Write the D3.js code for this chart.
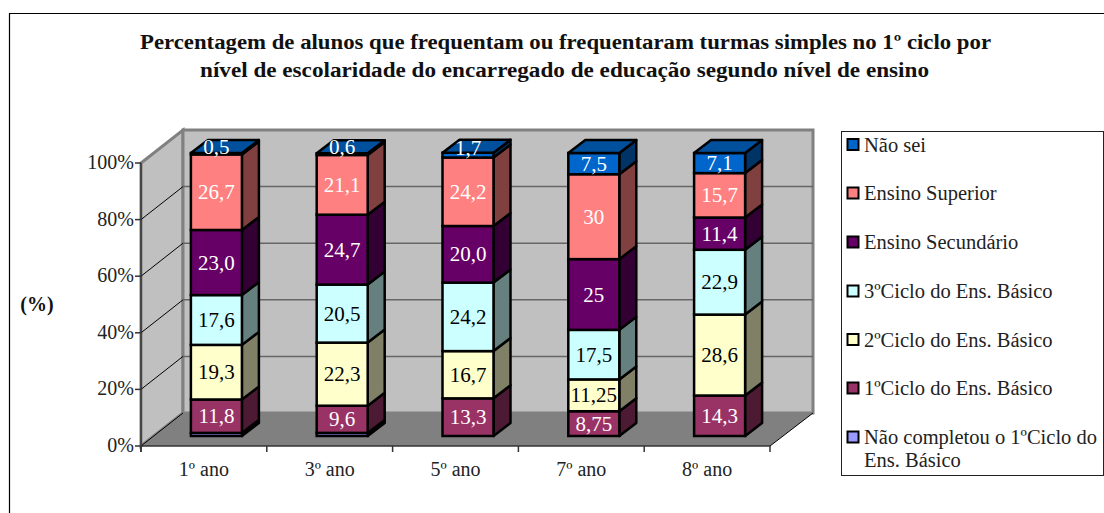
<!DOCTYPE html>
<html><head><meta charset="utf-8">
<script src="https://cdn.jsdelivr.net/npm/d3@7/dist/d3.min.js"></script>
<style>html,body{margin:0;padding:0;background:#fff}svg{display:block}text{font-family:"Liberation Serif",serif}</style>
</head><body><svg id="c" width="1104" height="513"></svg>
<script>
const categories=["1º ano","3º ano","5º ano","7º ano","8º ano"];
const seriesNames=["Não completou o 1ºCiclo do Ens. Básico","1ºCiclo do Ens. Básico","2ºCiclo do Ens. Básico","3ºCiclo do Ens. Básico","Ensino Secundário","Ensino Superior","Não sei"];
const naoCompletou=[1.1,1.1,0,0,0];
const ciclo1=[11.8,9.6,13.3,8.75,14.3];
const ciclo2=[19.3,22.3,16.7,11.25,28.6];
const ciclo3=[17.6,20.5,24.2,17.5,22.9];
const secundario=[23.0,24.7,20.0,25,11.4];
const superior=[26.7,21.1,24.2,30,15.7];
const naoSei=[0.5,0.6,1.7,7.5,7.1];
const labels=[
 [null,null,null,null,null],
 ["11,8","9,6","13,3","8,75","14,3"],
 ["19,3","22,3","16,7","11,25","28,6"],
 ["17,6","20,5","24,2","17,5","22,9"],
 ["23,0","24,7","20,0","25","11,4"],
 ["26,7","21,1","24,2","30","15,7"],
 ["0,5","0,6","1,7","7,5","7,1"]];
const colors=["#9999ff","#993366","#ffffcc","#ccffff","#660066","#ff8080","#0066cc"];
const sideColors=["#4c4c80","#4d1a33","#808066","#668080","#330033","#804040","#003366"];
const topBlue="#00509e";
const labelColors=["#000","#fff","#000","#000","#fff","#fff","#fff"];
const values=[naoCompletou,ciclo1,ciclo2,ciclo3,secundario,superior,naoSei];
const ticks=[0,20,40,60,80,100];
const svg=d3.select("#c");
svg.append("path").attr("d","M9.5,513V13.5H1104").attr("fill","none").attr("stroke","#000").attr("stroke-width",1.2);
const title=["Percentagem de alunos que frequentam ou frequentaram turmas simples no 1º ciclo por","nível de escolaridade do encarregado de educação segundo nível de ensino"];
const titleX=[140,200],titleW=[851,729];
title.forEach((t,i)=>svg.append("text").attr("x",titleX[i]).attr("y",48.5+i*28.5).attr("font-size",20.5).attr("font-weight","bold").attr("fill","#111").attr("textLength",titleW[i]).attr("lengthAdjust","spacingAndGlyphs").text(t));
const x=d3.scaleBand().domain(categories).range([141,770]);
const y=d3.scaleLinear().domain([0,100]).range([446,163]);
const D={x:42,y:-33};
const g=svg.append("g");
g.append("polygon").attr("points",[[141,y(0)],[141,y(100)],[141+D.x,y(100)+D.y],[141+D.x,y(0)+D.y]].join(" ")).attr("fill","#c0c0c0").attr("stroke","#808080").attr("stroke-width",3);
g.append("polygon").attr("points",[[141+D.x,y(100)+D.y],[770+D.x+1,y(100)+D.y],[770+D.x+1,y(0)+D.y],[141+D.x,y(0)+D.y]].join(" ")).attr("fill","#c0c0c0").attr("stroke","#808080").attr("stroke-width",3);
g.append("polygon").attr("points",[[141,y(0)],[770,y(0)],[770+D.x+1,y(0)+D.y],[141+D.x,y(0)+D.y]].join(" ")).attr("fill","#808080");
g.append("line").attr("x1",770).attr("y1",y(0)).attr("x2",770+D.x+1).attr("y2",y(0)+D.y).attr("stroke","#000");
ticks.forEach(t=>{
  if(t>0&&t<100) g.append("line").attr("x1",141+D.x).attr("x2",770+D.x+1).attr("y1",y(t)+D.y).attr("y2",y(t)+D.y).attr("stroke","#666").attr("stroke-width",1.5);
  if(t<100) g.append("line").attr("x1",141).attr("x2",141+D.x).attr("y1",y(t)).attr("y2",y(t)+D.y).attr("stroke","#000");
  g.append("line").attr("x1",135).attr("x2",141).attr("y1",y(t)).attr("y2",y(t)).attr("stroke","#333").attr("stroke-width",1.5);
  g.append("text").attr("x",134).attr("y",y(t)+6).attr("text-anchor","end").attr("font-size",20).attr("fill","#222").text(t+"%");
});
g.append("line").attr("x1",141).attr("x2",141).attr("y1",y(100)).attr("y2",y(0)+6).attr("stroke","#333").attr("stroke-width",1.5);
g.append("line").attr("x1",141).attr("x2",770).attr("y1",y(0)).attr("y2",y(0)).attr("stroke","#333").attr("stroke-width",1.5);
categories.forEach((c,i)=>{
  const xa=x(c);
  g.append("line").attr("x1",xa).attr("x2",xa).attr("y1",y(0)).attr("y2",y(0)+6).attr("stroke","#333").attr("stroke-width",1.5);
  g.append("text").attr("x",xa+x.bandwidth()/2).attr("y",476).attr("text-anchor","middle").attr("font-size",20).attr("fill","#222").text(c);
});
g.append("line").attr("x1",770).attr("x2",770).attr("y1",y(0)).attr("y2",y(0)+6).attr("stroke","#333").attr("stroke-width",1.5);
svg.append("text").attr("x",37).attr("y",311).attr("text-anchor","middle").attr("font-size",20).attr("font-weight","bold").attr("fill","#111").text("(%)");
const barW=51,off={x:12.5,y:-10},bd={x:17,y:-13};
categories.forEach((c,i)=>{
  const bg=svg.append("g");
  const bx=x(c)+x.bandwidth()/2-barW/2+off.x;
  let cum=0;
  values.forEach((v,s)=>{
    const val=v[i];
    if(val===0){return;}
    const y0=y(cum)+off.y,y1=y(cum+val)+off.y;
    bg.append("polygon").attr("points",[[bx+barW,y0],[bx+barW+bd.x,y0+bd.y],[bx+barW+bd.x,y1+bd.y],[bx+barW,y1]].join(" ")).attr("fill",sideColors[s]).attr("stroke","#000").attr("stroke-width",2.5).attr("stroke-linejoin","round");
    bg.append("rect").attr("x",bx).attr("y",y1).attr("width",barW).attr("height",y0-y1).attr("fill",colors[s]).attr("stroke","#000").attr("stroke-width",2.5);
    cum+=val;
    if(s===values.length-1){
      bg.append("polygon").attr("points",[[bx,y1],[bx+bd.x,y1+bd.y],[bx+barW+bd.x,y1+bd.y],[bx+barW,y1]].join(" ")).attr("fill",topBlue).attr("stroke","#000").attr("stroke-width",2.5).attr("stroke-linejoin","round");
    }
  });
  cum=0;
  values.forEach((v,s)=>{
    const val=v[i];
    if(labels[s][i]!==null){
      const ym=y(cum+val/2)+off.y;
      bg.append("text").attr("x",bx+barW/2).attr("y",val<2?ym:ym+7).attr("text-anchor","middle").attr("font-size",21).attr("fill",labelColors[s]).text(labels[s][i]);
    }
    cum+=val;
  });
});
const lg=svg.append("g");
lg.append("rect").attr("x",841.5).attr("y",131.5).attr("width",262).attr("height",344).attr("fill","#fff").attr("stroke","#222");
const order=[6,5,4,3,2,1,0];
const ly=[144.5,193,242,291,339.5,388,437];
order.forEach((s,i)=>{
  lg.append("rect").attr("x",847.5).attr("y",ly[i]-5.5).attr("width",11).attr("height",11).attr("fill",colors[s]).attr("stroke","#000").attr("stroke-width",2);
  const n=seriesNames[s];
  if(s===0){
    lg.append("text").attr("x",864).attr("y",ly[i]+7).attr("font-size",20.5).attr("fill","#222").text("Não completou o 1ºCiclo do");
    lg.append("text").attr("x",864).attr("y",ly[i]+30).attr("font-size",20.5).attr("fill","#222").text("Ens. Básico");
  } else lg.append("text").attr("x",864).attr("y",ly[i]+7).attr("font-size",20.5).attr("fill","#222").text(n);
});
</script></body></html>
